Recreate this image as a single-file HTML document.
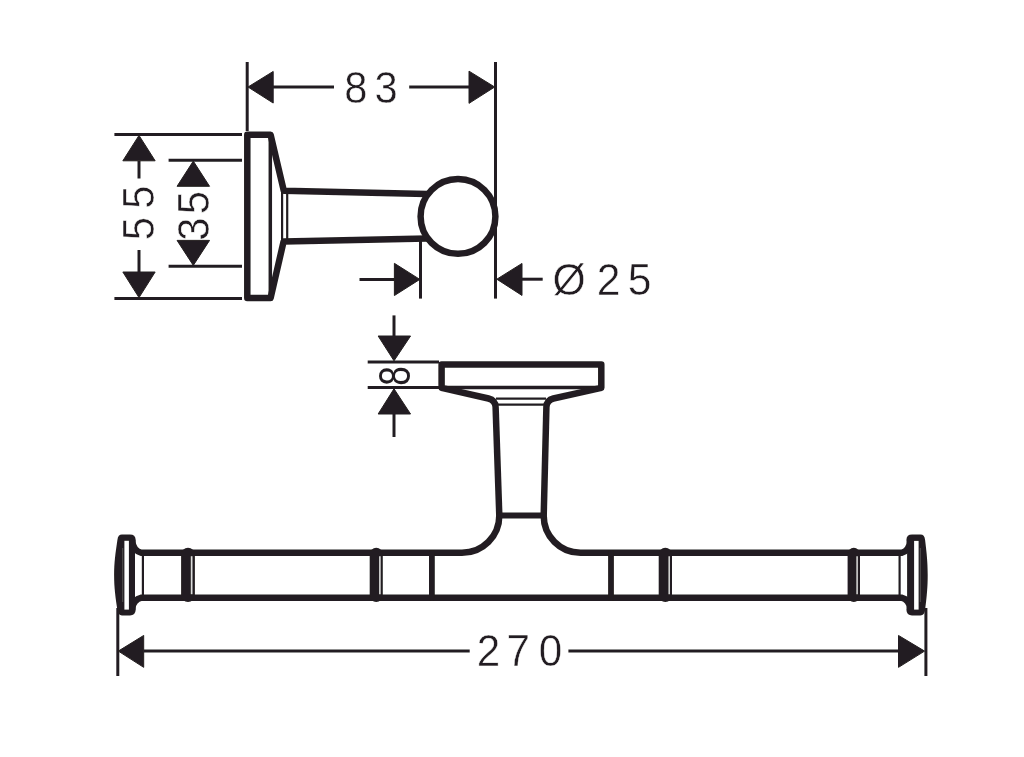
<!DOCTYPE html>
<html lang="en">
<head>
<meta charset="utf-8">
<title>Dimension drawing</title>
<style>
html,body{margin:0;padding:0;background:#fff;}
body{width:1024px;height:757px;overflow:hidden;}
svg{display:block;}
text{font-family:"Liberation Sans",sans-serif;font-size:44px;fill:#231f20;stroke:#fff;stroke-width:0.5px;}
.k{stroke:#231f20;stroke-width:6.5;fill:none;stroke-linejoin:round;stroke-linecap:round;}
.m{stroke:#231f20;stroke-width:3.5;fill:none;stroke-linecap:butt;}
.t{stroke:#231f20;stroke-width:2.2;fill:none;}
.d{stroke:#231f20;stroke-width:3;fill:none;stroke-linecap:butt;}
.a{fill:#231f20;stroke:#231f20;stroke-width:1;stroke-linejoin:round;}
.f{fill:#231f20;stroke:none;}
</style>
</head>
<body>
<svg width="1024" height="757" viewBox="0 0 1024 757">
<defs><filter id="soft" x="0" y="0" width="1024" height="757" filterUnits="userSpaceOnUse"><feGaussianBlur stdDeviation="0.6"/></filter></defs>
<rect x="0" y="0" width="1024" height="757" fill="#ffffff"/>
<g filter="url(#soft)">

<!-- ===== TOP VIEW ===== -->
<!-- dim 83 -->
<g id="dim83">
<line class="d" x1="247.2" y1="62" x2="247.2" y2="131"/>
<line class="d" x1="495.5" y1="62" x2="495.5" y2="298.6"/>
<polygon class="a" points="248,87 273.2,71.45 273.2,103.05"/>
<line class="d" x1="273" y1="87" x2="334" y2="87"/>
<text transform="translate(340,102.7) scale(0.95,1)" x="4.4 36.2" y="0">83</text>
<line class="d" x1="409.2" y1="87" x2="469" y2="87"/>
<polygon class="a" points="494.7,87 469,71.15 469,103.35"/>
</g>

<!-- dim 55 -->
<g id="dim55">
<line class="d" x1="114.4" y1="134.6" x2="242" y2="134.6"/>
<line class="d" x1="114.4" y1="298.4" x2="242" y2="298.4"/>
<polygon class="a" points="139,135.4 122.85,160.8 155.15,160.8"/>
<line class="d" x1="139" y1="161" x2="139" y2="178.5"/>
<text transform="translate(154.2,240) rotate(-90) scale(0.95,1)" x="-0.4 32.8" y="0">55</text>
<line class="d" x1="139" y1="250" x2="139" y2="272"/>
<polygon class="a" points="139,297.6 122.85,272 155.15,272"/>
</g>

<!-- dim 35 -->
<g id="dim35">
<line class="d" x1="168.6" y1="160.3" x2="242" y2="160.3"/>
<line class="d" x1="168.6" y1="266.2" x2="242" y2="266.2"/>
<polygon class="a" points="193.3,161.1 177.05,186.3 209.55,186.3"/>
<polygon class="a" points="193.3,265.4 177.05,240.4 209.55,240.4"/>
<text transform="translate(209.4,240) rotate(-90) scale(0.95,1)" x="-0.7 27.0" y="0">35</text>
</g>

<!-- flange + arm + ball -->
<g id="hook">
<line class="m" x1="270.3" y1="134.7" x2="270.3" y2="298"/>
<line class="t" x1="282.1" y1="190" x2="282.1" y2="242"/>
<line class="t" x1="287.2" y1="190" x2="287.2" y2="242"/>
<path class="k" d="M427,194.1 L283.8,190.8 L270.6,134.7 L247.3,134.7 L247.3,298 L270.6,298 L283.6,241.4 L427,238.4"/>
<line class="d" x1="420.5" y1="236" x2="420.5" y2="298.6"/>
<circle cx="458" cy="216.4" r="37.4" fill="#fff" stroke="#231f20" stroke-width="6.5"/>
</g>

<!-- dim Ø25 -->
<g id="dim25">
<line class="d" x1="359.5" y1="279.4" x2="394.5" y2="279.4"/>
<polygon class="a" points="419.8,279.4 394.4,263.35 394.4,295.55"/>
<polygon class="a" points="496.8,279.2 522,263.45 522,295.45"/>
<line class="d" x1="522" y1="279.2" x2="542.7" y2="279.2"/>
<text transform="translate(550,294.6) scale(0.97,1)" x="2.7 48.1 80.2" y="0">Ø25</text>
</g>

<!-- ===== BOTTOM VIEW ===== -->
<!-- dim 8 -->
<g id="dim8">
<line class="d" x1="394" y1="315.4" x2="394" y2="336"/>
<polygon class="a" points="394,360.8 378.15,336 410.55,336"/>
<line class="d" x1="367.7" y1="362" x2="439" y2="362"/>
<line class="d" x1="367.7" y1="387.6" x2="439" y2="387.6"/>
<polygon class="a" points="394,388.8 378.15,414 410.55,414"/>
<line class="d" x1="394" y1="414" x2="394" y2="437"/>
<text transform="translate(410.1,390) rotate(-90) scale(0.78,1)" x="5.5" y="0" style="stroke:none;font-size:45px">8</text>
</g>

<!-- holder body -->
<g id="holder">
<line class="m" x1="441.6" y1="387.5" x2="601.3" y2="387.5" style="stroke-width:3.3"/>
<line class="t" x1="496" y1="398.6" x2="546" y2="398.6"/>
<line class="t" x1="497" y1="404.6" x2="545" y2="404.6"/>
<!-- wall flange + neck + sweep into bar (top contour) -->
<path class="k" d="M132.3,541.5 Q133.3,550.8 141.5,552.8 L462,552.8 A37.3,37.1 0 0 0 499.3,515.5 L495.6,407 Q495.3,400.2 488.5,398.5 L441.6,387.8 L441.6,364.6 L601.3,364.6 L601.3,387.8 L553.4,398.5 Q546.7,400.2 546.4,407 L543.7,515.5 A36.8,37.1 0 0 0 580.5,552.8 L901.5,552.8 Q909.2,550.8 910.2,541.5"/>
<line class="k" x1="499.3" y1="515.5" x2="543.7" y2="515.5" style="stroke-width:5.9"/>
<!-- bar bottom contour -->
<path class="k" d="M132.3,608.5 Q133.3,599.5 141.5,597.7 L901.5,597.7 Q909.2,599.5 910.2,608.5"/>
<!-- dividers -->
<line class="k" x1="431.9" y1="552.8" x2="431.9" y2="597.7" style="stroke-width:5.8"/>
<line class="k" x1="611" y1="552.8" x2="611" y2="597.7" style="stroke-width:5.8"/>
<!-- thin end lines -->
<line class="t" x1="142.9" y1="552" x2="142.9" y2="598"/>
<line class="t" x1="899.6" y1="552" x2="899.6" y2="598"/>
<!-- rings -->
<rect class="f" x="181.1" y="547.7" width="13.8" height="54.4" rx="6.9" ry="7"/>
<line x1="191.65" y1="556.2" x2="191.65" y2="594.2" stroke="#dcdcdc" stroke-width="1.7"/>
<rect class="f" x="369.7" y="547.7" width="13.1" height="54.4" rx="6.6" ry="7"/>
<line x1="379.90" y1="556.2" x2="379.90" y2="594.2" stroke="#dcdcdc" stroke-width="1.6"/>
<rect class="f" x="658.7" y="547.7" width="13.3" height="54.4" rx="6.6" ry="7"/>
<line x1="669.20" y1="556.2" x2="669.20" y2="594.2" stroke="#dcdcdc" stroke-width="1.5"/>
<rect class="f" x="847.6" y="547.7" width="12.4" height="54.4" rx="6.2" ry="7"/>
<line x1="857.10" y1="556.2" x2="857.10" y2="594.2" stroke="#dcdcdc" stroke-width="1.5"/>
<!-- end caps -->
<path class="f" d="M122,534.6 L130,534.6 Q135.4,534.6 135.7,540 L135,546 L135,604 L135.7,609.8 Q135.4,615.4 130,615.4 L122,615.4 Q118,615.4 117.4,610 C115.5,597 114.1,588 114.1,575 C114.1,562 115.5,553 117.4,540 Q118,534.6 122,534.6 Z"/>
<rect x="124.4" y="540.8" width="4.5" height="68.8" fill="#fff"/>
<line x1="122.7" y1="548" x2="122.7" y2="602" stroke="#5f5c5d" stroke-width="0.8"/>
<path class="f" d="M920.5,534.6 L912,534.6 Q906.6,534.6 906.4,540 L907.1,546 L907.1,604 L906.4,609.8 Q906.6,615.4 912,615.4 L920.5,615.4 Q924.5,615.4 925.1,610 C926.7,597 927.7,588 927.7,575 C927.7,562 926.7,553 925.1,540 Q924.5,534.6 920.5,534.6 Z"/>
<rect x="914.1" y="540.9" width="4.5" height="68.7" fill="#fff"/>
<line x1="920.3" y1="548" x2="920.3" y2="602" stroke="#5f5c5d" stroke-width="0.8"/>
</g>

<!-- dim 270 -->
<g id="dim270">
<line class="d" x1="117.8" y1="608" x2="117.8" y2="676"/>
<line class="d" x1="925.9" y1="608" x2="925.9" y2="676"/>
<polygon class="a" points="118.3,651.1 143.7,635.45 143.7,667.35"/>
<line class="d" x1="143.5" y1="651.1" x2="469.7" y2="651.1"/>
<text transform="translate(475,666) scale(0.96,1)" x="1.8 32.7 66.3" y="0">270</text>
<line class="d" x1="568.4" y1="651.1" x2="898.5" y2="651.1"/>
<polygon class="a" points="924.6,651.1 898.5,635.45 898.5,667.35"/>
</g>
</g>
</svg>
</body>
</html>
